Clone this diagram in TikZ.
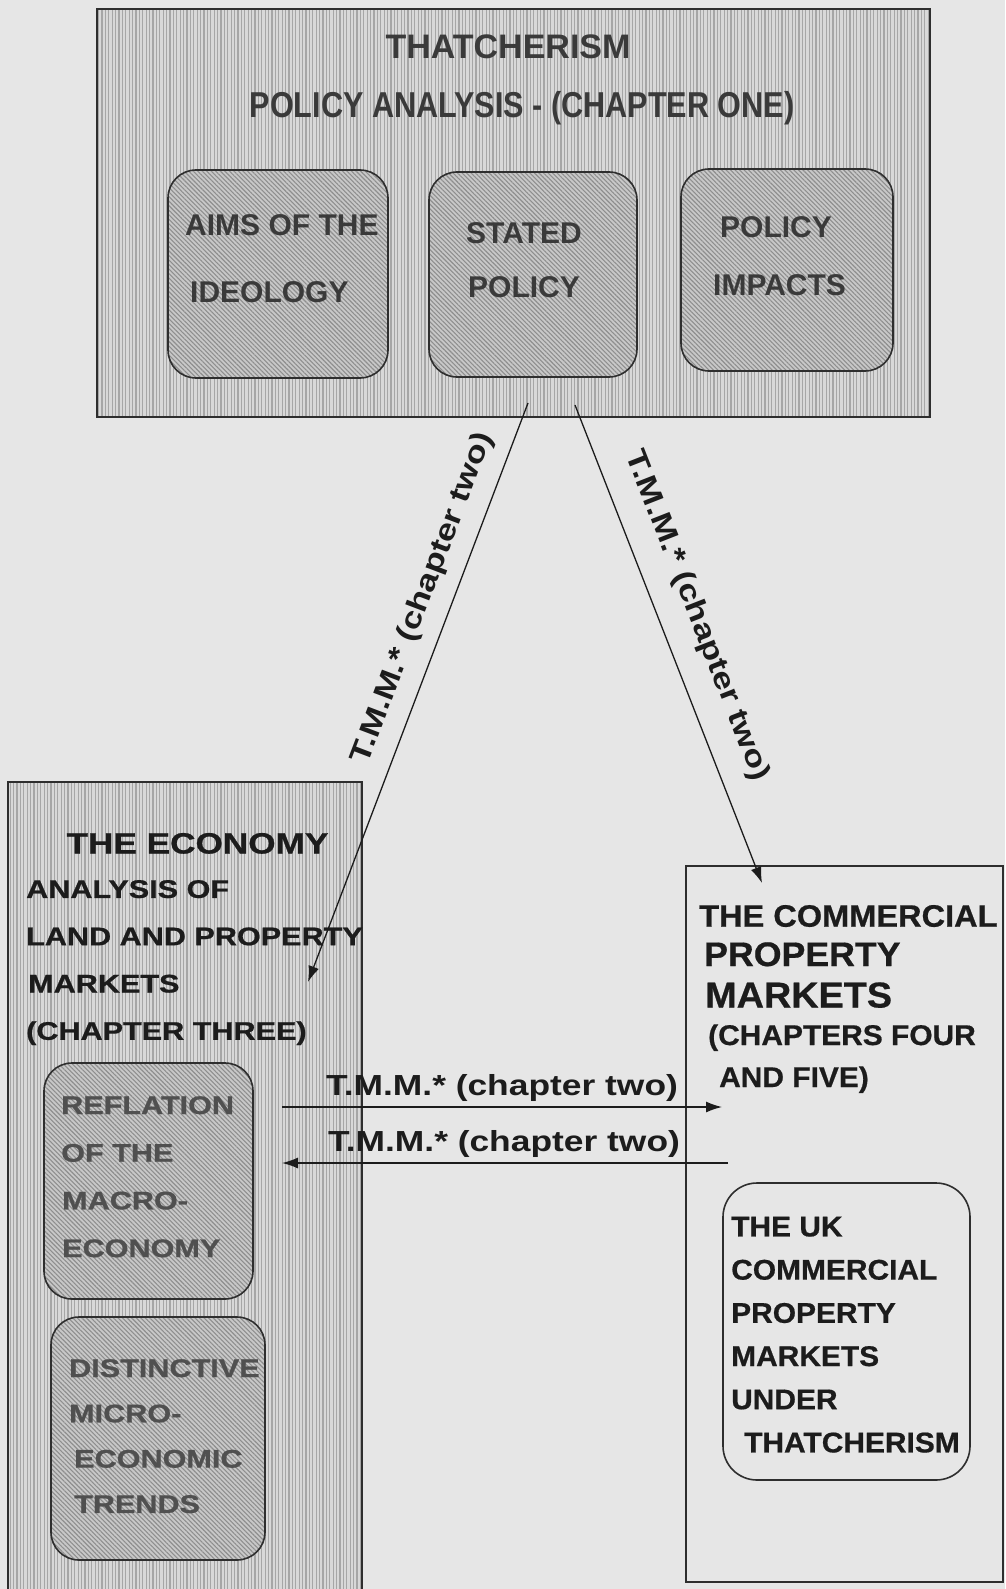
\documentclass[tikz,border=0pt]{standalone}
\usepackage{fontspec}
\setmainfont{Liberation Sans}
\newfontfamily\topfont{Liberation Sans}
\newfontfamily\condfont{Liberation Sans}[FakeStretch=0.85]
\newfontfamily\widefont{Liberation Sans}[FakeStretch=1.2,FakeBold=0.8]
\newfontfamily\lblfont{Liberation Sans}[FakeStretch=1.22]
\newfontfamily\midfont{Liberation Sans}[FakeStretch=1.05,FakeBold=0.6]
\usetikzlibrary{patterns.meta,arrows.meta}
\definecolor{paper}{HTML}{E6E6E6}
\definecolor{hatchbg}{HTML}{D8D8D8}
\definecolor{hatchln}{HTML}{A6A6A6}
\definecolor{dhatchbg}{HTML}{C8C8C8}
\definecolor{dhatchln}{HTML}{8E8E8E}
\definecolor{inkgrey}{HTML}{3A3A3A}
\definecolor{inkmid}{HTML}{505050}
\definecolor{inkdark}{HTML}{1C1C1C}
\definecolor{boxline}{HTML}{2E2E2E}
\tikzset{
  vhatch/.style={preaction={fill=hatchbg}, pattern={Lines[angle=90,distance=3.4pt,line width=1.1pt]}, pattern color=hatchln},
  dhatch/.style={preaction={fill=dhatchbg}, pattern={Lines[angle=-45,distance=3.2pt,line width=1.1pt]}, pattern color=dhatchln},
  panel/.style={draw=boxline, line width=1.5pt, rectangle, inner sep=0pt},
  roundbox/.style={draw=boxline, line width=1.6pt, rounded corners=28pt, rectangle, inner sep=0pt},
  conn/.style={draw=inkdark, line width=1.3pt, -{Latex[length=16pt,width=11pt]}},
  lbl/.style={font=\lblfont\bfseries\fontsize{29}{34}\selectfont, text=inkdark, inner sep=0pt},
  toptxt/.style={font=\topfont\bfseries\fontsize{30}{30}\selectfont, text=inkgrey, inner sep=0pt, align=left, anchor=north west},
  ectxt/.style={font=\widefont\bfseries\fontsize{25.5}{47.3}\selectfont, text=inkdark, inner sep=0pt, align=left, anchor=north west},
  cmtxt/.style={text=inkdark, inner sep=0pt, anchor=base west}
}
\begin{document}
\begin{tikzpicture}[x=1pt,y=-1pt]
\useasboundingbox (0,0) rectangle (1005,1589);
\fill[paper] (0,0) rectangle (1005,1589);

% ---------- top panel ----------
\node[panel, vhatch, minimum width=833pt, minimum height=408pt] (top) at (513.5,213) {};
\node[toptxt, anchor=base, font=\topfont\bfseries\fontsize{34}{34}\selectfont] (thatch) at (508,58.2) {THATCHERISM};
\node[toptxt, anchor=base, font=\condfont\bfseries\fontsize{36}{36}\selectfont] (polan) at (522,117.9) {POLICY ANALYSIS - (CHAPTER ONE)};

\node[roundbox, dhatch, minimum width=220pt, minimum height=208pt] (aims) at (278,274) {};
\node[roundbox, dhatch, minimum width=208pt, minimum height=205pt] (stated) at (533,274.5) {};
\node[roundbox, dhatch, minimum width=212pt, minimum height=202pt] (impacts) at (787,270) {};

\node[toptxt, font=\topfont\bfseries\fontsize{30}{67}\selectfont] (aimst) at (185,214.3) {AIMS OF THE\\\hspace*{5pt}IDEOLOGY};
\node[toptxt, font=\topfont\bfseries\fontsize{30}{54}\selectfont] (statedt) at (466,222.3) {STATED\\\hspace*{2pt}POLICY};
\node[toptxt, font=\topfont\bfseries\fontsize{30}{58}\selectfont] (impactst) at (713,216.3) {\hspace*{7pt}POLICY\\IMPACTS};

% ---------- economy panel ----------
\node[panel, vhatch, minimum width=354pt, minimum height=809pt] (econ) at (185,1186.5) {};
\node[cmtxt, anchor=base, font=\widefont\bfseries\fontsize{29.3}{30}\selectfont] (econt) at (197.5,853.5) {THE ECONOMY};
\node[ectxt] (econb) at (26,879.9) {ANALYSIS OF\\LAND AND PROPERTY\\\hspace*{2pt}MARKETS\\(CHAPTER THREE)};

\node[roundbox, dhatch, minimum width=209pt, minimum height=236pt] (refl) at (148.5,1181) {};
\node[ectxt, text=inkmid, font=\widefont\bfseries\fontsize{25.5}{47.7}\selectfont] (reflt) at (61,1096) {REFLATION\\OF THE\\\hspace*{1pt}MACRO-\\\hspace*{1pt}ECONOMY};
\node[roundbox, dhatch, minimum width=214pt, minimum height=243pt] (dist) at (158,1438.5) {};
\node[ectxt, text=inkmid, font=\widefont\bfseries\fontsize{25.5}{45.3}\selectfont] (distt) at (69,1359) {DISTINCTIVE\\MICRO-\\\hspace*{5pt}ECONOMIC\\\hspace*{5pt}TRENDS};

% ---------- commercial panel ----------
\node[panel, minimum width=317pt, minimum height=716pt] (comm) at (844.5,1224) {};
\node[cmtxt, font=\midfont\bfseries\fontsize{31}{31}\selectfont] (cm1) at (699,926.7) {THE COMMERCIAL};
\node[cmtxt, font=\midfont\bfseries\fontsize{34}{34}\selectfont] (cm2) at (704,966) {PROPERTY};
\node[cmtxt, font=\midfont\bfseries\fontsize{36}{36}\selectfont] (cm3) at (705,1007.5) {MARKETS};
\node[cmtxt, font=\midfont\bfseries\fontsize{28.5}{28}\selectfont] (cm4) at (708,1045) {(CHAPTERS FOUR};
\node[cmtxt, font=\midfont\bfseries\fontsize{28.5}{28}\selectfont] (cm5) at (719,1087) {AND FIVE)};

\node[roundbox, rounded corners=34pt, minimum width=247pt, minimum height=297pt] (uk) at (846.5,1331.5) {};
\node[ectxt, font=\midfont\bfseries\fontsize{28.5}{43.2}\selectfont] (ukt) at (731,1216.6) {THE UK\\COMMERCIAL\\PROPERTY\\MARKETS\\UNDER\\\hspace*{13pt}THATCHERISM};

% ---------- connectors ----------
\coordinate (dLs) at (528,403);
\coordinate (dLe) at (308,982);
\coordinate (dRs) at (575,405);
\coordinate (dRe) at (762,883);
\coordinate (hUs) at (282,1107);
\coordinate (hUe) at (722,1107);
\coordinate (hDs) at (728,1163);
\coordinate (hDe) at (282,1163);

\draw[conn] (dLs) -- (dLe);
\draw[conn] (dRs) -- (dRe);
\draw[conn] (hUs) -- (hUe);
\draw[conn] (hDs) -- (hDe);

\node[lbl, rotate=69.2] (lblL) at (423,598) {T.M.M.* (chapter two)};
\node[lbl, rotate=-68.6] (lblR) at (697,616) {T.M.M.* (chapter two)};
\node[lbl, anchor=base] (lblU) at (502,1095) {T.M.M.* (chapter two)};
\node[lbl, anchor=base] (lblD) at (504,1151) {T.M.M.* (chapter two)};
\end{tikzpicture}
\end{document}
